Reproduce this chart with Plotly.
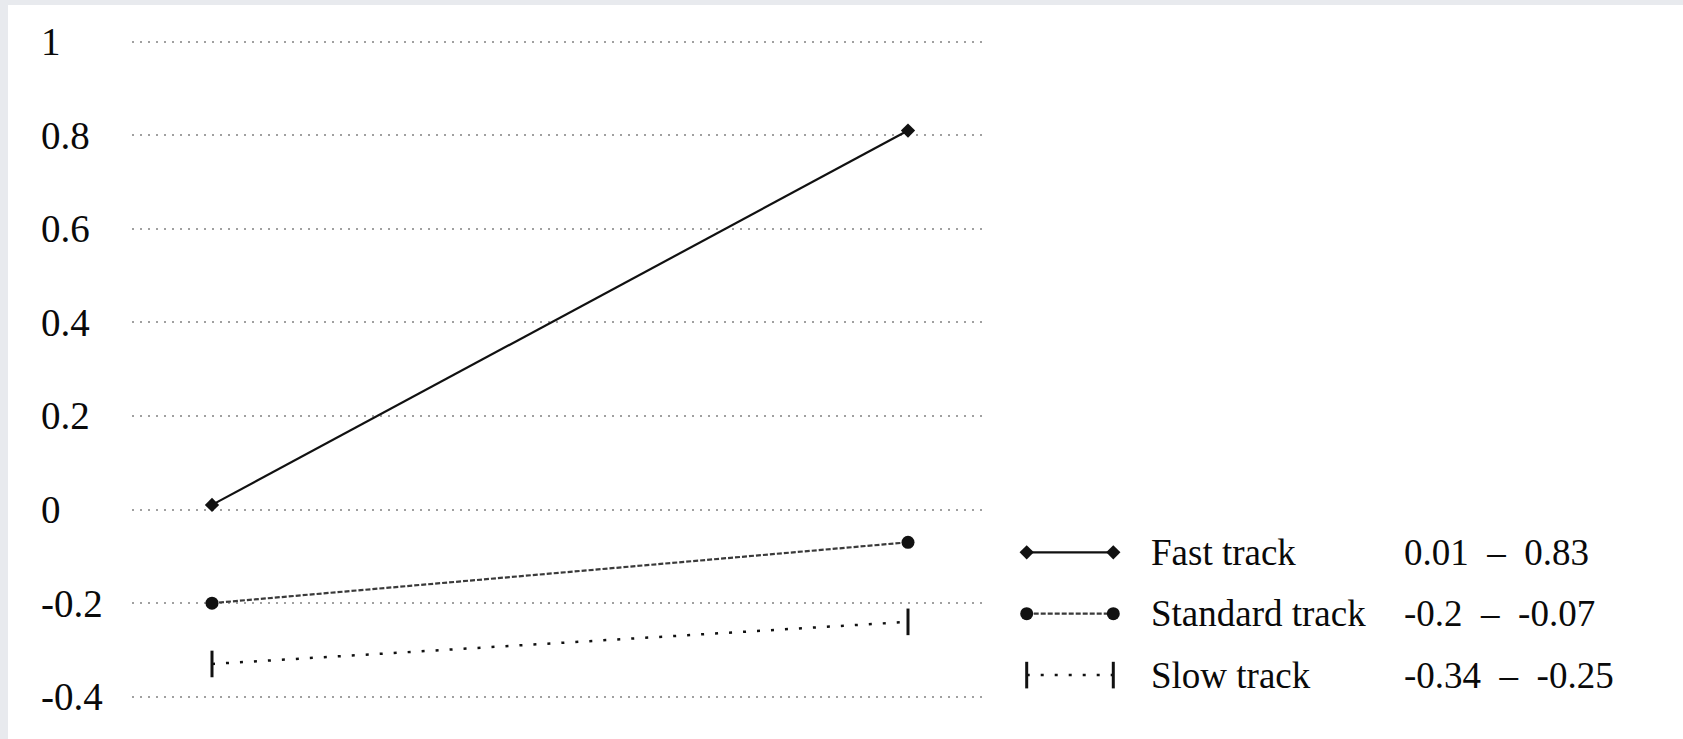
import plotly.graph_objects as go

# ---------------- data ----------------
time_points = [0, 1]
series_names = ["Fast track", "Standard track", "Slow track"]
start_values = [0.01, -0.20, -0.33]
end_values = [0.81, -0.07, -0.24]
range_start_labels = ["0.01", "-0.2", "-0.34"]
range_end_labels = ["0.83", "-0.07", "-0.25"]
y_tick_values = [1, 0.8, 0.6, 0.4, 0.2, 0, -0.2, -0.4]
y_tick_labels = ["1", "0.8", "0.6", "0.4", "0.2", "0", "-0.2", "-0.4"]

# ---------------- styles ----------------
W, H = 1683, 739
FONT = "Liberation Serif, Times New Roman, Times, serif"
TXT = "#0a0a0a"
styles = [
    dict(line=dict(color="#111111", width=2.2, dash="solid"),
         marker=dict(symbol="diamond", size=11, color="#111111")),
    dict(line=dict(color="#3a3a3a", width=2.2, dash="5px,2px"),
         marker=dict(symbol="circle", size=13, color="#111111")),
    dict(line=dict(color="#111111", width=2.5, dash="3px,11px"),
         marker=dict(symbol="line-ns", size=19, color="#111111",
                     line=dict(width=3, color="#111111"))),
]

# pixel layout helpers
px_left, px_right = 132, 983        # main plot area x
px_top, px_bottom = 18.3, 720.1      # main plot area y


def px_x(p):
    return p / W


def px_y(p):
    return (H - p) / H


fig = go.Figure()

for i, name in enumerate(series_names):
    fig.add_trace(go.Scatter(
        x=time_points, y=[start_values[i], end_values[i]],
        mode="lines+markers", name=name, showlegend=False,
        line=styles[i]["line"], marker=styles[i]["marker"],
        xaxis="x", yaxis="y", hoverinfo="skip"))

# custom legend drawn on a secondary axis pair
for i, name in enumerate(series_names):
    fig.add_trace(go.Scatter(
        x=[0, 1], y=[i, i], mode="lines+markers", showlegend=False,
        line=styles[i]["line"], marker=styles[i]["marker"],
        xaxis="x2", yaxis="y2", cliponaxis=False, hoverinfo="skip"))

annotations = []
# y tick labels (left aligned)
for v, lab in zip(y_tick_values, y_tick_labels):
    annotations.append(dict(
        x=px_x(40), xref="paper", xanchor="left",
        y=v, yref="y", yanchor="middle",
        text=lab, showarrow=False, borderpad=0,
        font=dict(family=FONT, size=39, color=TXT)))

# legend texts
nb = "\u00a0"
for i, name in enumerate(series_names):
    annotations.append(dict(
        x=px_x(1150), xref="paper", xanchor="left",
        y=i, yref="y2", yanchor="middle",
        text=name, showarrow=False, borderpad=0,
        font=dict(family=FONT, size=37, color=TXT)))
    annotations.append(dict(
        x=px_x(1403), xref="paper", xanchor="left",
        y=i, yref="y2", yanchor="middle",
        text=range_start_labels[i] + nb * 2 + "–" + nb * 2 + range_end_labels[i],
        showarrow=False, borderpad=0,
        font=dict(family=FONT, size=37, color=TXT)))

# x range so that points sit at 212px and 908px
x_scale = (908 - 212) / 1.0
x_range = [(px_left - 212) / x_scale, (px_right - 212) / x_scale]

# legend axis geometry: rows at 552.3, 613.7, 675.1 px
row_step = 61.4
leg_top = 552.3 - 0.5 * row_step
leg_bot = 675.1 + 0.5 * row_step
leg_x0, leg_x1 = 1026.7, 1113.3
leg_scale = leg_x1 - leg_x0

fig.update_layout(
    width=W, height=H,
    margin=dict(l=0, r=0, t=0, b=0, autoexpand=False),
    paper_bgcolor="#e8eaee",
    plot_bgcolor="rgba(0,0,0,0)",
    showlegend=False,
    xaxis=dict(domain=[px_x(px_left), px_x(px_right)], range=x_range,
               visible=False, fixedrange=True),
    yaxis=dict(domain=[px_y(px_bottom), px_y(px_top)], range=[-0.45, 1.05],
               tickvals=y_tick_values, showticklabels=False, ticks="",
               showgrid=True, gridcolor="#a0a0a0", gridwidth=1.5,
               griddash="2px,6px", zeroline=False, showline=False,
               fixedrange=True),
    xaxis2=dict(domain=[px_x(leg_x0 - 0.1 * leg_scale), px_x(leg_x1 + 0.1 * leg_scale)],
                range=[-0.1, 1.1], visible=False, anchor="y2", fixedrange=True),
    yaxis2=dict(domain=[px_y(leg_bot), px_y(leg_top)], range=[2.5, -0.5],
                visible=False, anchor="x2", fixedrange=True),
    annotations=annotations,
    shapes=[dict(type="rect", xref="paper", yref="paper",
                 x0=px_x(8), x1=1.01, y0=-0.01, y1=px_y(5),
                 fillcolor="white", line=dict(width=0), layer="below")],
)

fig.write_html(
    "out.html",
    config={"displayModeBar": False},
    post_script="document.body.style.margin='0';document.body.style.overflow='hidden';",
)
